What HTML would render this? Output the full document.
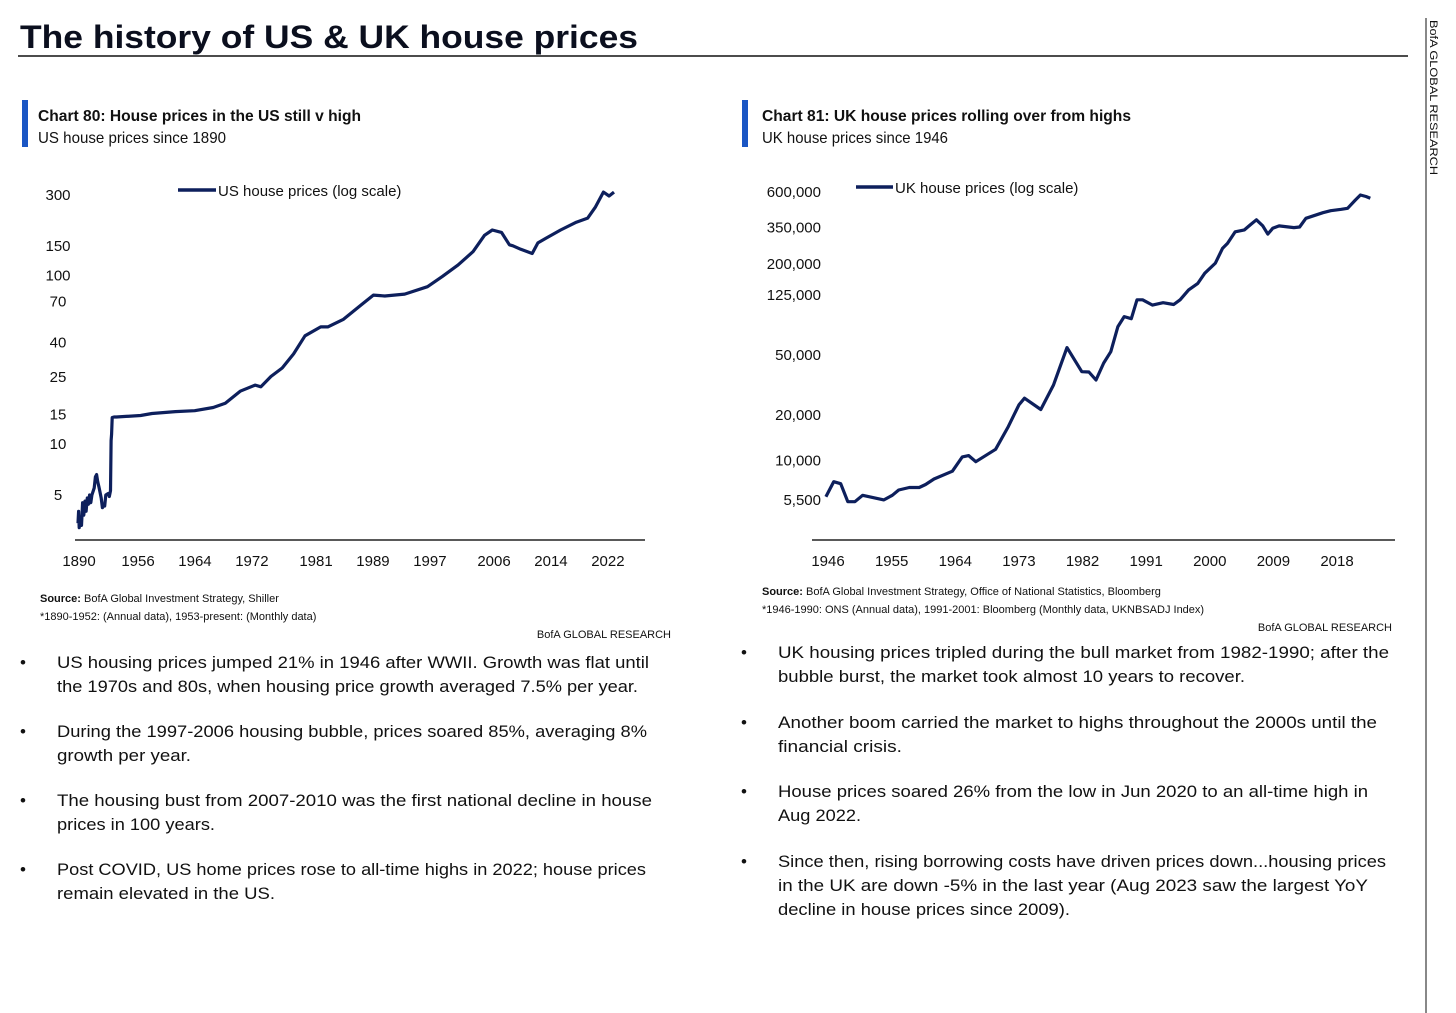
<!DOCTYPE html>
<html><head><meta charset="utf-8"><title>US & UK house prices</title>
<style>
html,body{margin:0;padding:0;background:#fff;}
svg{display:block;font-family:"Liberation Sans",sans-serif;}
.tick{font-size:15px;fill:#111;}
.body{font-size:17px;fill:#111;}
.src{font-size:11px;fill:#111;}
</style></head>
<body>
<svg id="page" width="1456" height="1013" viewBox="0 0 1456 1013">
  <text x="20" y="48" font-size="32" font-weight="bold" fill="#0b0f1e" textLength="618" lengthAdjust="spacingAndGlyphs">The history of US &amp; UK house prices</text>
  <line x1="18" y1="56" x2="1408" y2="56" stroke="#111" stroke-width="1.5"/>
  <line x1="1426" y1="18" x2="1426" y2="1013" stroke="#111" stroke-width="1"/>
  <text transform="translate(1430,20) rotate(90)" font-size="11" fill="#111" textLength="155" lengthAdjust="spacingAndGlyphs">BofA GLOBAL RESEARCH</text>

  <!-- US header -->
  <rect x="22" y="100" width="6" height="47" fill="#1a56c4"/>
  <text x="38" y="121" font-size="16" font-weight="bold" fill="#111" textLength="323" lengthAdjust="spacingAndGlyphs">Chart 80: House prices in the US still v high</text>
  <text x="38" y="143" font-size="16" fill="#111" textLength="188" lengthAdjust="spacingAndGlyphs">US house prices since 1890</text>
  <!-- UK header -->
  <rect x="742" y="100" width="6" height="47" fill="#1a56c4"/>
  <text x="762" y="121" font-size="16" font-weight="bold" fill="#111" textLength="369" lengthAdjust="spacingAndGlyphs">Chart 81: UK house prices rolling over from highs</text>
  <text x="762" y="143" font-size="16" fill="#111" textLength="186" lengthAdjust="spacingAndGlyphs">UK house prices since 1946</text>

  <g id="us-chart"></g>
  <g id="uk-chart"></g>

  <!-- legends -->
  <line x1="178" y1="190" x2="216" y2="190" stroke="#0d1f5c" stroke-width="3.5"/>
  <text x="218" y="196" font-size="15" fill="#111">US house prices (log scale)</text>
  <line x1="856" y1="187" x2="893" y2="187" stroke="#0d1f5c" stroke-width="3.5"/>
  <text x="895" y="193" font-size="15" fill="#111">UK house prices (log scale)</text>

  <!-- sources -->
  <text x="40" y="602" class="src"><tspan font-weight="bold">Source:</tspan>  BofA Global Investment Strategy, Shiller</text>
  <text x="40" y="620" class="src">*1890-1952:  (Annual data), 1953-present:  (Monthly data)</text>
  <text x="671" y="638" class="src" fill="#333" text-anchor="end">BofA GLOBAL RESEARCH</text>
  <text x="762" y="595" class="src"><tspan font-weight="bold">Source:</tspan>  BofA Global Investment Strategy, Office of National Statistics, Bloomberg</text>
  <text x="762" y="613" class="src">*1946-1990:  ONS (Annual data), 1991-2001:  Bloomberg (Monthly data, UKNBSADJ Index)</text>
  <text x="1392" y="631" class="src" fill="#333" text-anchor="end">BofA GLOBAL RESEARCH</text>

  <!-- US bullets -->
  <g>
    <text x="20" y="668" class="body">•</text>
    <text x="57" y="668" class="body" textLength="592" lengthAdjust="spacingAndGlyphs">US housing prices jumped 21% in 1946 after WWII. Growth was flat until</text>
    <text x="57" y="692" class="body" textLength="581" lengthAdjust="spacingAndGlyphs">the 1970s and 80s, when housing price growth averaged 7.5% per year.</text>
    <text x="20" y="737" class="body">•</text>
    <text x="57" y="737" class="body" textLength="590" lengthAdjust="spacingAndGlyphs">During the 1997-2006 housing bubble, prices soared 85%, averaging 8%</text>
    <text x="57" y="761" class="body" textLength="134" lengthAdjust="spacingAndGlyphs">growth per year.</text>
    <text x="20" y="806" class="body">•</text>
    <text x="57" y="806" class="body" textLength="595" lengthAdjust="spacingAndGlyphs">The housing bust from 2007-2010 was the first national decline in house</text>
    <text x="57" y="830" class="body" textLength="158" lengthAdjust="spacingAndGlyphs">prices in 100 years.</text>
    <text x="20" y="875" class="body">•</text>
    <text x="57" y="875" class="body" textLength="589" lengthAdjust="spacingAndGlyphs">Post COVID, US home prices rose to all-time highs in 2022; house prices</text>
    <text x="57" y="899" class="body" textLength="218" lengthAdjust="spacingAndGlyphs">remain elevated in the US.</text>
  </g>
  <!-- UK bullets -->
  <g>
    <text x="741" y="658" class="body">•</text>
    <text x="778" y="658" class="body" textLength="611" lengthAdjust="spacingAndGlyphs">UK housing prices tripled during the bull market from 1982-1990; after the</text>
    <text x="778" y="682" class="body" textLength="467" lengthAdjust="spacingAndGlyphs">bubble burst, the market took almost 10 years to recover.</text>
    <text x="741" y="728" class="body">•</text>
    <text x="778" y="728" class="body" textLength="599" lengthAdjust="spacingAndGlyphs">Another boom carried the market to highs throughout the 2000s until the</text>
    <text x="778" y="752" class="body" textLength="124" lengthAdjust="spacingAndGlyphs">financial crisis.</text>
    <text x="741" y="797" class="body">•</text>
    <text x="778" y="797" class="body" textLength="590" lengthAdjust="spacingAndGlyphs">House prices soared 26% from the low in Jun 2020 to an all-time high in</text>
    <text x="778" y="821" class="body" textLength="83" lengthAdjust="spacingAndGlyphs">Aug 2022.</text>
    <text x="741" y="867" class="body">•</text>
    <text x="778" y="867" class="body" textLength="608" lengthAdjust="spacingAndGlyphs">Since then, rising borrowing costs have driven prices down...housing prices</text>
    <text x="778" y="891" class="body" textLength="590" lengthAdjust="spacingAndGlyphs">in the UK are down -5% in the last year (Aug 2023 saw the largest YoY</text>
    <text x="778" y="915" class="body" textLength="292" lengthAdjust="spacingAndGlyphs">decline in house prices since 2009).</text>
  </g>
</svg>
<script>
const NS = 'http://www.w3.org/2000/svg';
// US data
const usYears = [1890,1891,1892,1894,1896,1898,1900,1902,1904,1906,1908,1910,1912,1914,1918,1920,1922,1924,1926,1930,1932,1934,1936,1938,1942,1944,1946,1947,1948,1949,1952,
 1953.1,1956.5,1958.1,1961.4,1964.1,1966.7,1968.4,1970.5,1972.6,1973.4,1974.8,1976.4,1978,1979.6,1981.8,1982.8,1985,1987.6,1989.2,1990.8,1993.6,1996.8,1998.9,2001.1,2003.2,2004.8,2005.9,2007.2,2008.3,2008.8,2009.9,2011.5,2012.3,2013.4,2015.5,2017.7,2019.3,2020.4,2021.5,2022.3,2023];
const usValues = [3.4,4.0,3.2,3.6,3.3,4.5,3.8,4.6,4.0,4.8,4.4,5.0,4.5,5.0,5.5,6.4,6.6,6.0,5.6,4.8,4.2,4.3,4.3,5.0,5.1,4.9,5.3,10.5,11.5,14.4,14.5,
 14.5,14.8,15.2,15.6,15.8,16.5,17.5,20.6,22.4,21.9,25.2,28.3,34.3,43.9,49.6,49.6,55,67.5,76.5,75.6,77.6,85.8,98.8,115.5,138.5,173,186,180,152,150,143,135,156,166,186,207,219,255,312,296,312];
const usTickValues = [300,150,100,70,40,25,15,10,5];
const usTickLabels = ['300','150','100','70','40','25','15','10','5'];
const usXTicks = [1890,1956,1964,1972,1981,1989,1997,2006,2014,2022];
// UK data
const ukYears = [1945.7,1946.8,1947.8,1948.8,1949.8,1950.9,1953.9,1955.1,1956,1957.5,1958.9,1959.8,1961,1963.6,1965,1965.9,1966.9,1969.7,1971.5,1973,1973.8,1976.1,1977.9,1979,1979.8,1981.9,1982.9,1983.9,1985,1986,1987,1987.9,1988.9,1989.7,1990.5,1991.9,1993.4,1994.9,1995.8,1997,1998.3,1999.3,2000.8,2001.8,2002.5,2003.6,2004.9,2005.7,2006.6,2007.5,2008.2,2008.9,2009.8,2011.9,2012.7,2013.6,2016,2017.1,2018.6,2019.5,2020.6,2021.3,2022.1,2022.7];
const ukValues = [5780,7260,7040,5350,5350,5900,5500,5900,6400,6650,6650,6960,7560,8520,10600,10800,9850,11900,16800,23400,25900,21800,31700,44100,56000,38800,38600,34200,44300,52600,77100,89800,87000,116000,116000,107000,111000,108000,116000,135000,149000,174000,203000,254000,274000,327000,337000,363000,393000,358000,316000,345000,358000,349000,352000,402000,438000,451000,461000,468000,531000,573000,560000,546000];
const ukTickValues = [600000,350000,200000,125000,50000,20000,10000,5500];
const ukTickLabels = ['600,000','350,000','200,000','125,000','50,000','20,000','10,000','5,500'];
const ukXTicks = [1946,1955,1964,1973,1982,1991,2000,2009,2018];

// axis functions
function usX(yr){ return yr < 1953 ? 78 + (yr - 1890) * 0.58 : 137 + (yr - 1956) * 7.12; }
function usY(v){ return 195 + (Math.log10(300) - Math.log10(v)) * 168.7; }
function ukX(yr){ return 828 + (yr - 1946) * 7.07; }
function ukY(v){ return 192 + (Math.log10(600000) - Math.log10(v)) * 151.1; }

function draw(g, years, values, fx, fy, yTicks, yLabels, xTicks, cfg){
  const axis = document.createElementNS(NS,'line');
  axis.setAttribute('x1', cfg.ax1); axis.setAttribute('x2', cfg.ax2);
  axis.setAttribute('y1', 540); axis.setAttribute('y2', 540);
  axis.setAttribute('stroke', '#222'); axis.setAttribute('stroke-width', '1.5');
  
  
  g.appendChild(axis);
  yTicks.forEach((v,i)=>{
    const t = document.createElementNS(NS,'text');
    t.setAttribute('x', cfg.yLabelX); t.setAttribute('y', fy(v) + 5);
    t.setAttribute('text-anchor', cfg.anchor); t.setAttribute('class','tick');
    t.textContent = yLabels[i];
    
    
    g.appendChild(t);
  });
  xTicks.forEach(yr=>{
    const t = document.createElementNS(NS,'text');
    t.setAttribute('x', fx(yr) + cfg.xOff); t.setAttribute('y', 566);
    t.setAttribute('text-anchor', 'middle'); t.setAttribute('class','tick');
    t.textContent = String(yr);
    
    
    g.appendChild(t);
  });
  const d = years.map((yr,i)=>(i?'L':'M') + fx(yr).toFixed(1) + ',' + fy(values[i]).toFixed(1)).join(' ');
  const p = document.createElementNS(NS,'path');
  p.setAttribute('d', d); p.setAttribute('fill','none');
  p.setAttribute('stroke', '#0d1f5c'); p.setAttribute('stroke-width', '3.2');
  p.setAttribute('stroke-linejoin', 'round');
  
  
  g.appendChild(p);
}
draw(document.getElementById('us-chart'), usYears, usValues, usX, usY, usTickValues, usTickLabels, usXTicks,
  {ax1:75, ax2:645, yLabelX:58, anchor:'middle', xOff:1, name:'us-price-line'});
draw(document.getElementById('uk-chart'), ukYears, ukValues, ukX, ukY, ukTickValues, ukTickLabels, ukXTicks,
  {ax1:812, ax2:1395, yLabelX:821, anchor:'end', xOff:0, name:'uk-price-line'});
</script>
</body></html>
